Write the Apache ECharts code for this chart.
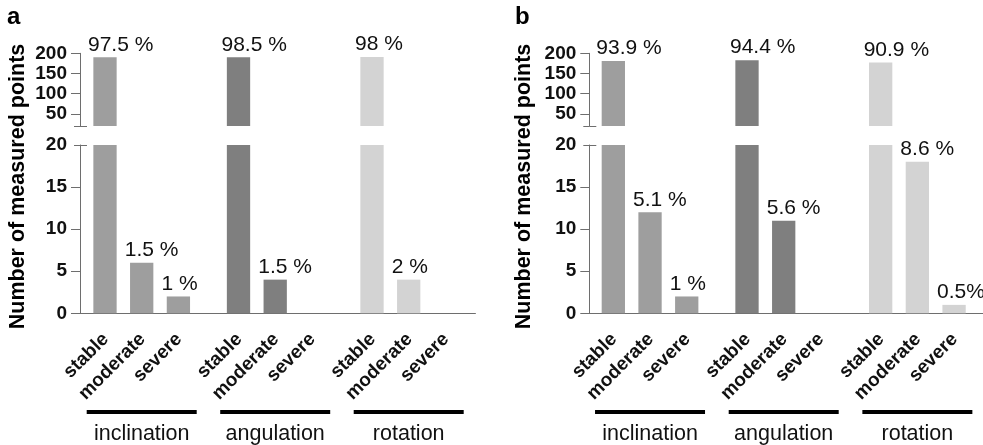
<!DOCTYPE html>
<html>
<head>
<meta charset="utf-8">
<script src="https://cdn.jsdelivr.net/npm/echarts@6/dist/echarts.min.js"></script>
<style>
html,body{margin:0;padding:0;background:#fff;}
#chart{width:983px;height:445px;}
</style>
</head>
<body>
<div id="chart"></div>
<script>
// ---------- data ----------
const groups = ['inclination', 'angulation', 'rotation'];
const levels = ['stable', 'moderate', 'severe'];
const upperTicks = [50, 100, 150, 200];
const lowerTicks = [0, 5, 10, 15, 20];
const breakValue = 20;
const upperMax = 200;

// panel a
const aStable = [190, 190, 191];
const aModerate = [6, 4, 4];
const aSevere = [2, 0, 0];
const aStablePct = ['97.5 %', '98.5 %', '98 %'];
const aModeratePct = ['1.5 %', '1.5 %', '2 %'];
const aSeverePct = ['1 %', '', ''];

// panel b
const bStable = [181, 183, 177];
const bModerate = [12, 11, 18];
const bSevere = [2, 0, 1];
const bStablePct = ['93.9 %', '94.4 %', '90.9 %'];
const bModeratePct = ['5.1 %', '5.6 %', '8.6 %'];
const bSeverePct = ['1 %', '', '0.5%'];

const yTitle = 'Number of measured points';

// ---------- style ----------
const groupColors = ['#9e9e9e', '#7f7f7f', '#d3d3d3'];
const FONT = 'Liberation Sans, Arial, Helvetica, sans-serif';
const axisColor = '#6e6e6e';
const textColor = '#111';

const panels = [
  {letter: 'a', left: 74.95, width: 400.5, axisOffset: -5.05, letterX: 7, titleX: 17.6,
   vals: [aStable, aModerate, aSevere], pcts: [aStablePct, aModeratePct, aSeverePct]},
  {letter: 'b', left: 583.2, width: 401, axisOffset: -6.1, letterX: 515, titleX: 524,
   vals: [bStable, bModerate, bSevere], pcts: [bStablePct, bModeratePct, bSeverePct]}
];
const L = {
  upperTop: 53.3, upperHeight: 72.7,
  lowerTop: 145, lowerHeight: 168.3,
  namesTop: 337, namesHeight: 10,
  lineTop: 410, lineHeight: 4
};
const BAR_W = 23.3, BAR_GAP = '57.5%';

const grid = [], xAxis = [], yAxis = [], series = [], graphic = [];

function hiddenX(gi) {
  return {gridIndex: gi, type: 'category', data: groups, show: false};
}
function hiddenY(gi) {
  return {gridIndex: gi, type: 'value', min: 0, max: 1, show: false};
}
function breakAxes(gi, min, max, offset) {
  const base = {gridIndex: gi, type: 'value', min: min, max: max, position: 'left', offset: offset,
    axisLine: {show: false}, axisLabel: {show: false}, splitLine: {show: false}};
  return [
    Object.assign({}, base, {axisTick: {show: true, length: 6, customValues: [breakValue],
      lineStyle: {color: axisColor, width: 1}}}),
    Object.assign({}, base, {axisTick: {show: true, inside: true, length: 7, customValues: [breakValue],
      lineStyle: {color: axisColor, width: 1}}})
  ];
}

panels.forEach((p, pi) => {
  const g0 = grid.length;
  const gU = g0, gL = g0 + 1, gN = g0 + 2, gLine = g0 + 3;
  [[L.upperTop, L.upperHeight], [L.lowerTop, L.lowerHeight], [L.namesTop, L.namesHeight], [L.lineTop, L.lineHeight]]
    .forEach(([t, h]) => grid.push({left: p.left, width: p.width, top: t, height: h,
      containLabel: false, outerBoundsMode: 'none'}));

  // x axes
  const xU = xAxis.length;
  xAxis.push(hiddenX(gU));
  const xL = xAxis.length;
  xAxis.push({gridIndex: gL, type: 'category', data: groups,
    axisLine: {show: true, lineStyle: {color: axisColor, width: 1}},
    axisTick: {show: false}, axisLabel: {show: false}});
  const xN = xAxis.length; xAxis.push(hiddenX(gN));
  const xLine = xAxis.length; xAxis.push(hiddenX(gLine));

  // y axes
  const yLabel = {fontSize: 19, fontWeight: 'bold', color: textColor, margin: 13, fontFamily: FONT};
  const yU = yAxis.length;
  yAxis.push({gridIndex: gU, type: 'value', min: breakValue, max: upperMax, position: 'left', offset: p.axisOffset,
    axisLine: {show: true, lineStyle: {color: axisColor, width: 1}},
    axisTick: {show: true, length: 9, customValues: upperTicks, lineStyle: {color: axisColor, width: 1}},
    axisLabel: Object.assign({customValues: upperTicks}, yLabel),
    splitLine: {show: false}});
  breakAxes(gU, breakValue, upperMax, p.axisOffset).forEach(a => yAxis.push(a));
  const yL = yAxis.length;
  yAxis.push({gridIndex: gL, type: 'value', min: 0, max: breakValue, position: 'left', offset: p.axisOffset,
    axisLine: {show: true, lineStyle: {color: axisColor, width: 1}},
    axisTick: {show: true, length: 9, customValues: lowerTicks.filter(v => v < breakValue), lineStyle: {color: axisColor, width: 1}},
    axisLabel: Object.assign({customValues: lowerTicks}, yLabel),
    splitLine: {show: false}});
  breakAxes(gL, 0, breakValue, p.axisOffset).forEach(a => yAxis.push(a));
  const yN = yAxis.length; yAxis.push(hiddenY(gN));
  const yLine = yAxis.length; yAxis.push(hiddenY(gLine));

  const pctLabel = {show: true, position: 'top', distance: 2, align: 'left', offset: [-17, 0],
    fontSize: 21, color: textColor, fontFamily: FONT};

  levels.forEach((lev, li) => {
    const vals = p.vals[li], pcts = p.pcts[li];
    // upper (broken) segment
    series.push({type: 'bar', name: lev, xAxisIndex: xU, yAxisIndex: yU, barWidth: BAR_W, barGap: BAR_GAP,
      clip: true, silent: true,
      data: vals.map((v, j) => v > breakValue ? {value: v, itemStyle: {color: groupColors[j]}} : '-'),
      label: Object.assign({formatter: prm => pcts[prm.dataIndex]}, pctLabel)});
    // lower segment
    series.push({type: 'bar', name: lev, xAxisIndex: xL, yAxisIndex: yL, barWidth: BAR_W, barGap: BAR_GAP,
      clip: true, silent: true,
      data: vals.map((v, j) => ({value: v, itemStyle: {color: groupColors[j]}})),
      label: Object.assign({formatter: prm => vals[prm.dataIndex] <= breakValue ? pcts[prm.dataIndex] : ''}, pctLabel)});
    // level names (rotated category labels under each bar slot)
    series.push({type: 'bar', name: lev + '-name', xAxisIndex: xN, yAxisIndex: yN, barWidth: BAR_W, barGap: BAR_GAP,
      silent: true, data: groups.map(() => 1), itemStyle: {color: 'rgba(0,0,0,0)'},
      label: {show: true, formatter: lev, position: ['50%', 0], align: 'right', verticalAlign: 'middle',
        offset: [1, 0], rotate: 45, fontSize: 19, fontWeight: 'bold', color: textColor, fontFamily: FONT}});
  });
  // group underline bars with group names
  series.push({type: 'bar', name: 'groups', xAxisIndex: xLine, yAxisIndex: yLine, barWidth: 110,
    silent: true, data: groups.map(() => 1), itemStyle: {color: '#000'},
    label: {show: true, position: 'bottom', distance: 9, formatter: '{b}', fontSize: 21.5,
      color: textColor, fontFamily: FONT}});

  graphic.push({type: 'text', x: p.letterX, y: 17.7,
    style: {text: p.letter, font: 'bold 24px ' + FONT, fill: '#000', textAlign: 'left', textVerticalAlign: 'middle'}});
  graphic.push({type: 'text', x: p.titleX, y: 186.5, rotation: Math.PI / 2,
    style: {text: yTitle, font: 'bold 21.5px ' + FONT, fill: '#000', textAlign: 'center', textVerticalAlign: 'middle'}});
});

const chart = echarts.init(document.getElementById('chart'), null, {renderer: 'canvas'});
chart.setOption({
  animation: false,
  backgroundColor: '#fff',
  textStyle: {fontFamily: FONT},
  grid: grid, xAxis: xAxis, yAxis: yAxis, series: series, graphic: graphic
});
</script>
</body>
</html>
